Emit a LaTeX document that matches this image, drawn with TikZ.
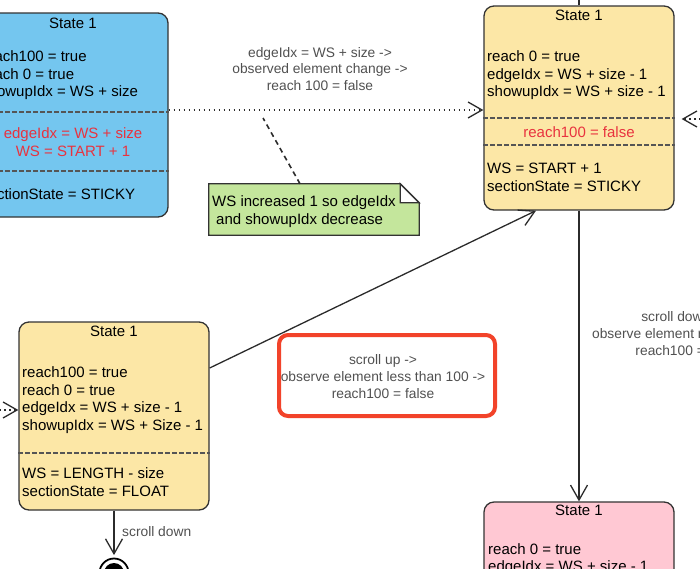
\documentclass[tikz,border=0pt]{standalone}
\usepackage{fontspec}
\setmainfont{Liberation Sans}
\usetikzlibrary{arrows.meta,calc}
\definecolor{bluefill}{HTML}{74C6EF}
\definecolor{yelfill}{HTML}{FCE7A6}
\definecolor{pinkfill}{HTML}{FFC8D3}
\definecolor{notefill}{HTML}{C4E69C}
\definecolor{boxline}{HTML}{333333}
\definecolor{linegray}{HTML}{2B2B2B}
\definecolor{sepgray}{HTML}{555555}
\definecolor{redtext}{HTML}{E8333F}
\definecolor{lblgray}{HTML}{505050}
\definecolor{hlred}{HTML}{F2432A}
\begin{document}
\begin{tikzpicture}[x=1pt,y=-1pt,
  statebox/.style={draw=boxline,line width=1.3pt,rounded corners=10pt,minimum width=190pt,minimum height=204pt,inner sep=0pt},
  boxtxt/.style={font=\fontsize{15}{17.5}\selectfont,inner sep=0pt,align=left,anchor=west},
  boxtitle/.style={font=\fontsize{15}{17.5}\selectfont,inner sep=0pt},
  redtxt/.style={boxtitle,text=redtext,align=center},
  lbl/.style={font=\fontsize{13.8}{16.9}\selectfont,text=lblgray,align=center,inner sep=0pt},
  sepline/.style={draw=sepgray,line width=1.2pt,dash pattern=on 4.5pt off 2.5pt},
  conn/.style={draw=linegray,line width=1.3pt,-{Straight Barb[length=15pt,width=17pt,line width=1.3pt]}},
  plainconn/.style={draw=linegray,line width=1.3pt},
  dotconn/.style={draw=linegray,line width=1.7pt,dash pattern=on 1.7pt off 3.3pt,-{Straight Barb[length=14pt,width=16pt,line width=1.3pt]}},
  noteconn/.style={draw=linegray,line width=1.6pt,dash pattern=on 5pt off 4pt},
  notebox/.style={draw=boxline,line width=1.3pt,fill=notefill,line join=miter},
  hlbox/.style={draw=hlred,line width=4pt,rounded corners=9pt,minimum width=216pt,minimum height=81pt,inner sep=0pt}
]
\useasboundingbox (0,0) rectangle (700,568);
\clip (0,0) rectangle (700,568);

% state boxes
\node[statebox,fill=bluefill] (blue) at (73,115) {};
\node[statebox,fill=yelfill] (tr) at (579,108) {};
\node[statebox,fill=yelfill,minimum height=188pt] (bl) at (114,416) {};
\node[statebox,fill=pinkfill] (pink) at (579,604) {};

% separators
\draw[sepline] (blue.west |- 0,112) -- (blue.east |- 0,112);
\draw[sepline] (blue.west |- 0,171) -- (blue.east |- 0,171);
\draw[sepline] (tr.west |- 0,118) -- (tr.east |- 0,118);
\draw[sepline] (tr.west |- 0,145) -- (tr.east |- 0,145);
\draw[sepline] (bl.west |- 0,453) -- (bl.east |- 0,453);

% blue box text
\node[boxtitle] (bluet) at (73,23) {State 1};
\node[boxtxt] (blueA) at (-19,75.5) {reach100 = true\\reach 0 = true\\showupIdx = WS + size};
\node[redtxt] (blueB) at (73,142) {edgeIdx = WS + size\\WS = START + 1};
\node[boxtxt] (blueC) at (-19,194) {sectionState = STICKY};

% top right box text
\node[boxtitle] (trt) at (579,15) {State 1};
\node[boxtxt] (trA) at (487,75.5) {reach 0 = true\\edgeIdx = WS + size - 1\\showupIdx = WS + size - 1};
\node[redtxt] (trB) at (579,132) {reach100 = false};
\node[boxtxt] (trC) at (487,177.5) {WS = START + 1\\sectionState = STICKY};

% bottom left box text
\node[boxtitle] (blt) at (114,331) {State 1};
\node[boxtxt] (blA) at (22,400) {reach100 = true\\reach 0 = true\\edgeIdx = WS + size - 1\\showupIdx = WS + Size - 1};
\node[boxtxt] (blB) at (22,482) {WS = LENGTH - size\\sectionState = FLOAT};

% pink box text
\node[boxtitle] (pinkt) at (579,510) {State 1};
\node[boxtxt] (pinkA) at (488,559) {reach 0 = true\\edgeIdx = WS + size - 1};

% final state
\node[circle,draw=black,line width=1.8pt,fill=white,minimum size=29pt,inner sep=0pt] (endst) at (114,573) {};
\node[circle,fill=black,minimum size=20pt,inner sep=0pt] (endin) at (endst.center) {};

% note
\node[minimum width=210pt,minimum height=51pt,inner sep=0pt] (note) at (314,209.5) {};
\filldraw[notebox] (note.south west) -- (note.north west) -- ([xshift=-19pt]note.north east)
  -- ([yshift=-19pt]note.north east) -- (note.south east) -- cycle;
\filldraw[draw=boxline,line width=1.3pt,fill=white,line join=miter] ([xshift=-19pt]note.north east)
  -- ([xshift=-19pt,yshift=-19pt]note.north east) -- ([yshift=-19pt]note.north east) -- cycle;
\node[boxtxt] (notet) at (212,211.5) {WS increased 1 so edgeIdx\\\hspace*{4pt}and showupIdx decrease};

% connectors
\coordinate (topout) at (579,-6);
\coordinate (rin) at (706,119);
\coordinate (lin) at (-6,410);
\coordinate (notetip) at (263,118);
\draw[plainconn] (tr.north) -- (topout);
\draw[dotconn] (blue.east |- 0,110) -- (tr.west |- 0,110);
\draw[dotconn,shorten >=7pt] (rin) -- (tr.east |- 0,119);
\draw[dotconn] (lin) -- (bl.west |- 0,410);
\draw[noteconn] (note.north -| 300,0) -- (notetip);
\draw[conn] (bl.east |- 0,368) -- (tr.south -| 536,0);
\draw[conn] (tr.south) -- (pink.north);
\draw[conn,shorten >=2.5pt] (bl.south) -- (endst.north);

% labels
\node[lbl] (lblA) at (320,69) {edgeIdx = WS + size ->\\observed element change ->\\reach 100 = false};
\node[lbl] (lblB) at (383,376.5) {scroll up ->\\observe element less than 100 ->\\reach100 = false};
\node[lbl] (lblC) at (684,333.5) {scroll down ->\\observe element reach 100 ->\\reach100 = true};
\node[lbl,anchor=west] (lblD) at (122,532) {scroll down};

% highlight box
\node[hlbox] (hl) at (387,375.5) {};
\end{tikzpicture}
\end{document}
